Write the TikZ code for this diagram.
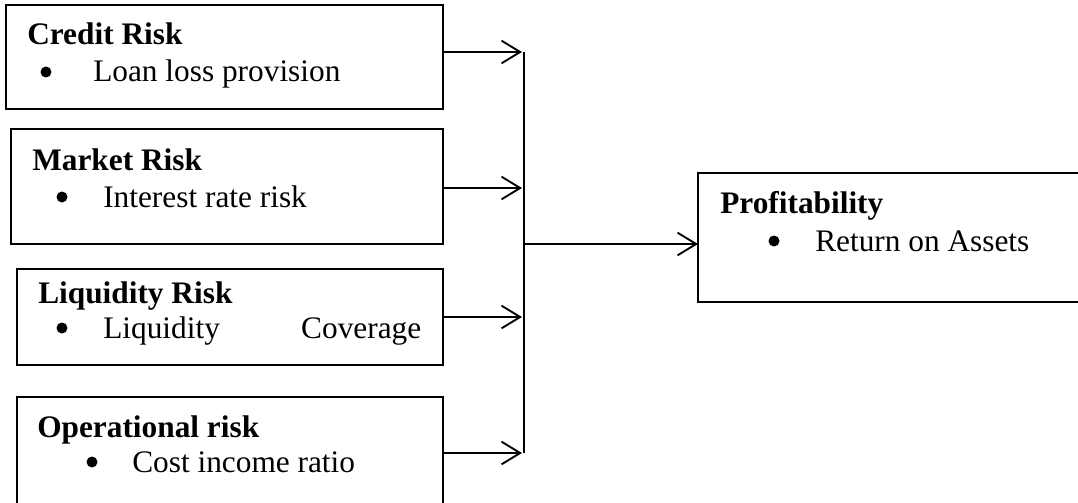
\documentclass[tikz,border=0pt]{standalone}
\usepackage{fontspec}
\setmainfont{Liberation Serif}
\usetikzlibrary{arrows.meta}
\begin{document}
\begin{tikzpicture}[x=0.75pt,y=-0.75pt,
  box/.style={draw, line width=1.4pt, anchor=north west, inner sep=0pt, outer sep=0pt},
  wire/.style={line width=1.4pt},
  conn/.style={line width=1.4pt, -{Straight Barb[length=14pt,width=17pt,line width=1.4pt]}},
  txt/.style={anchor=base west, inner sep=0pt, font=\fontsize{23.5}{28}\selectfont},
  ttl/.style={txt, font=\fontsize{23.5}{28}\selectfont\bfseries},
  bul/.style={circle, fill, inner sep=0pt, minimum size=8.25pt}]
\useasboundingbox (0,0) rectangle (1078,503);
\clip (0,0) rectangle (1078,503);
% boxes
\node[box, minimum width=327.75pt, minimum height=78pt] (credit) at (6,5) {};
\node[box, minimum width=324pt, minimum height=86.25pt] (market) at (11,129) {};
\node[box, minimum width=319.5pt, minimum height=72pt] (liquidity) at (17,269) {};
\node[box, minimum width=319.5pt, minimum height=90pt] (operational) at (17,397) {};
\node[box, minimum width=300pt, minimum height=96.75pt] (profit) at (698,173) {};
% texts
\node[ttl] (credit-t) at (27,45) {Credit Risk};
\node[bul] (credit-d) at (46,72) {};
\node[txt] (credit-b) at (93,82) {Loan loss provision};
\node[ttl] (market-t) at (32,170) {Market Risk};
\node[bul] (market-d) at (62,197) {};
\node[txt] (market-b) at (103,207) {Interest rate risk};
\node[ttl] (liquidity-t) at (38,303) {Liquidity Risk};
\node[bul] (liquidity-d) at (62,328) {};
\node[txt] (liquidity-b) at (103,338) {\makebox[238.5pt][l]{Liquidity\hfill Coverage}};
\node[ttl] (operational-t) at (37,437) {Operational risk};
\node[bul] (operational-d) at (92,462) {};
\node[txt] (operational-b) at (132,472) {Cost income ratio};
\node[ttl] (profit-t) at (720,213) {Profitability};
\node[bul] (profit-d) at (774,241) {};
\node[txt] (profit-b) at (815,251) {Return on Assets};
% junction points
\coordinate (j1) at (522,52);
\coordinate (j2) at (522,188);
\coordinate (j3) at (522,317);
\coordinate (j4) at (522,453);
\coordinate (bt) at (524,52);
\coordinate (bb) at (524,453);
\coordinate (bm) at (524,244);
% connectors
\draw[conn] (credit.east |- j1) -- (j1);
\draw[conn] (market.east |- j2) -- (j2);
\draw[conn] (liquidity.east |- j3) -- (j3);
\draw[conn] (operational.east |- j4) -- (j4);
\draw[wire] (bt) -- (bb);
\draw[conn] (bm) -- (profit.west |- bm);
\end{tikzpicture}
\end{document}
